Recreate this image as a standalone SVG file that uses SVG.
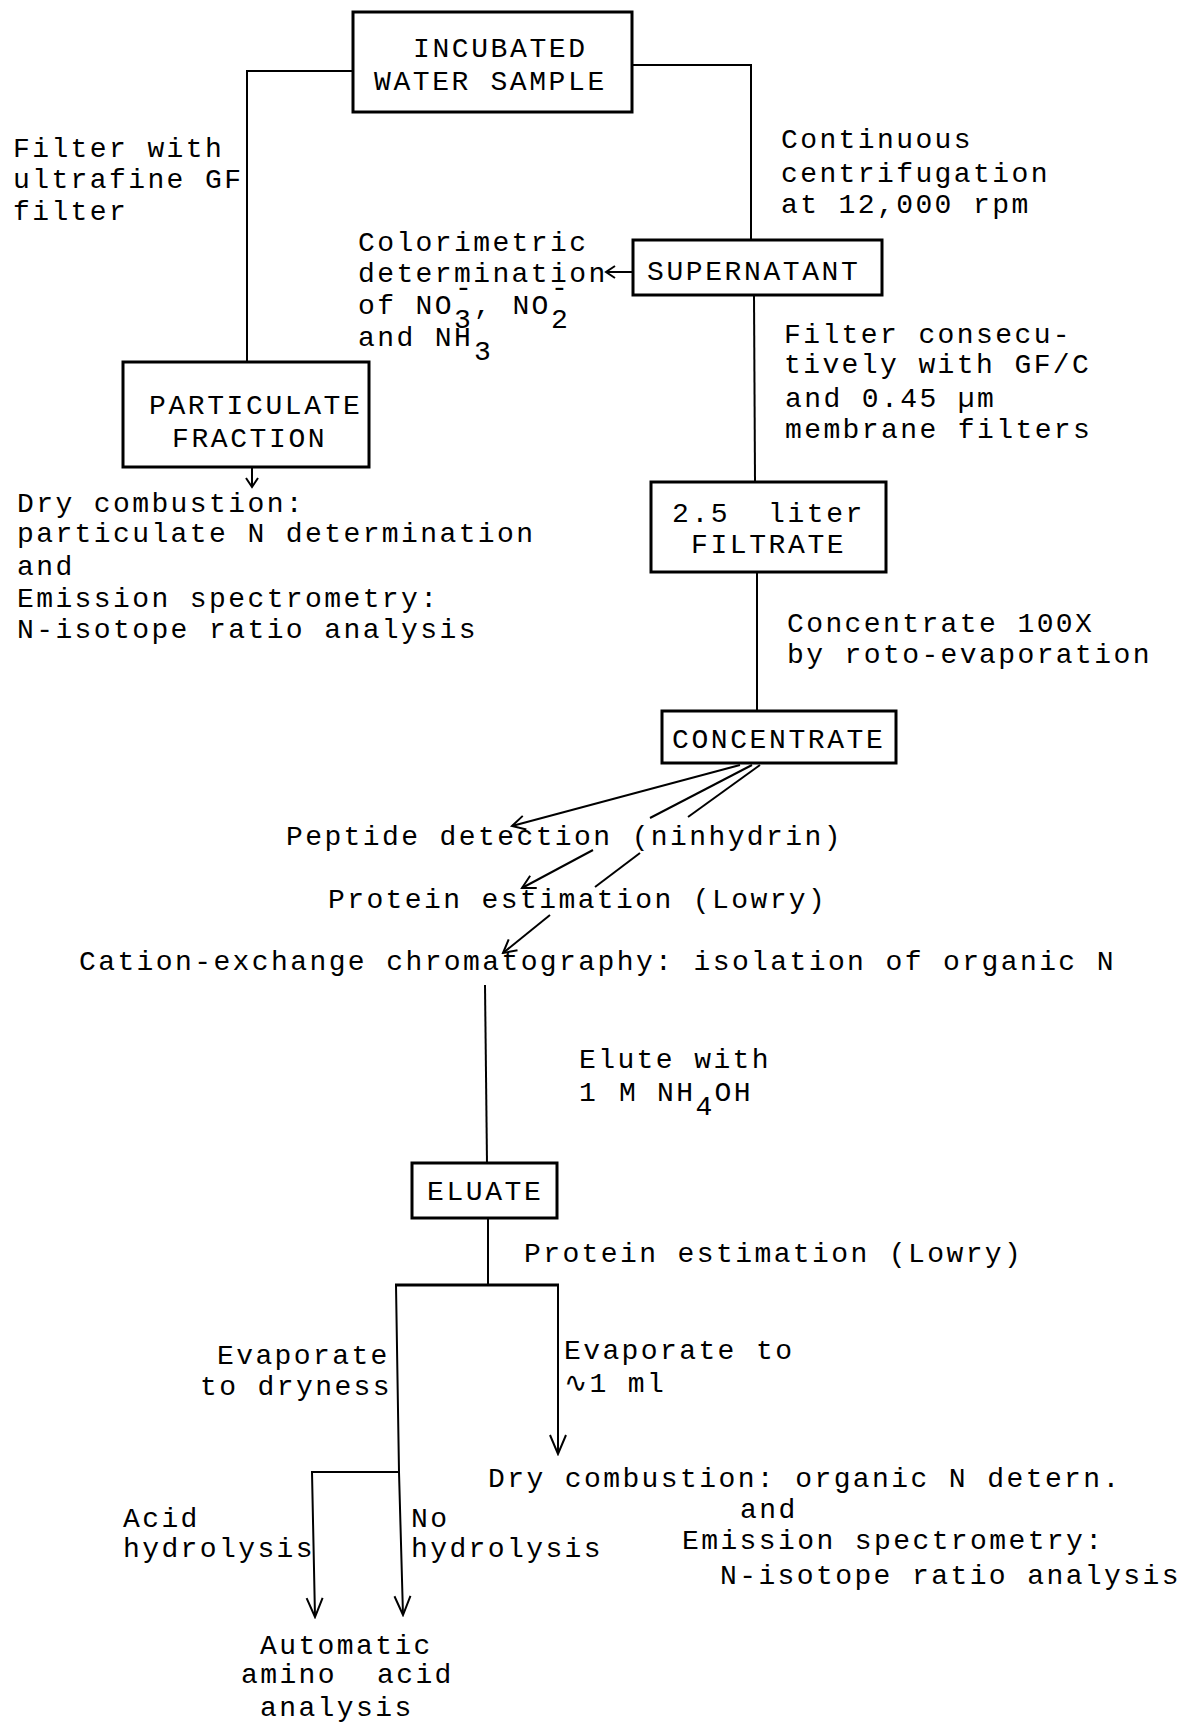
<svg xmlns="http://www.w3.org/2000/svg" width="1182" height="1724" viewBox="0 0 1182 1724">
<style>
.t{font-family:"Liberation Mono","DejaVu Sans Mono",monospace;font-size:28px;letter-spacing:2.4px;fill:#000}
.b{font-family:"Liberation Mono","DejaVu Sans Mono",monospace;font-size:28px;letter-spacing:2.6px;fill:#000}
.box{fill:none;stroke:#000;stroke-width:3}
.ln{fill:none;stroke:#000;stroke-width:2}
</style>
<defs>
<marker id="ah" markerUnits="userSpaceOnUse" viewBox="-16 -10 18 20" markerWidth="18" markerHeight="20" refX="0" refY="0" orient="auto">
<path d="M-13,-7 L0,0 L-13,7" fill="none" stroke="#000" stroke-width="2"/>
</marker>
<marker id="ahs" markerUnits="userSpaceOnUse" viewBox="-12 -8 14 16" markerWidth="14" markerHeight="16" refX="0" refY="0" orient="auto">
<path d="M-9,-6 L0,0 L-9,6" fill="none" stroke="#000" stroke-width="2"/>
</marker>
<marker id="ahl" markerUnits="userSpaceOnUse" viewBox="-22 -11 24 22" markerWidth="24" markerHeight="22" refX="0" refY="0" orient="auto">
<path d="M-19,-8 L0,0 L-19,8" fill="none" stroke="#000" stroke-width="2"/>
</marker>
</defs>
<rect width="1182" height="1724" fill="#fff"/>

<g id="incubated">
<rect class="box" x="353" y="12" width="279" height="100"/>
<text class="b" x="413" y="57">INCUBATED</text>
<text class="b" x="374" y="90">WATER SAMPLE</text>
</g>
<g id="particulate">
<rect class="box" x="123" y="362" width="246" height="105"/>
<text class="b" x="149" y="414">PARTICULATE</text>
<text class="b" x="172" y="447">FRACTION</text>
</g>
<g id="supernatant">
<rect class="box" x="633" y="240" width="249" height="55"/>
<text class="b" x="647" y="280">SUPERNATANT</text>
</g>
<g id="filtrate">
<rect class="box" x="651" y="482" width="235" height="90"/>
<text class="b" x="672" y="522">2.5 <tspan x="768">liter</tspan></text>
<text class="b" x="691" y="553">FILTRATE</text>
</g>
<g id="concentrate">
<rect class="box" x="662" y="711" width="234" height="52"/>
<text class="b" x="672" y="748">CONCENTRATE</text>
</g>
<g id="eluate">
<rect class="box" x="412" y="1163" width="145" height="55"/>
<text class="b" x="427" y="1200">ELUATE</text>
</g>

<g id="connectors">
<polyline class="ln" points="353,71 247,71 247,362"/>
<polyline class="ln" points="632,65 751,65 751,240"/>
<line class="ln" x1="754" y1="295" x2="755" y2="482"/>
<line class="ln" x1="757" y1="572" x2="757" y2="711"/>
<line class="ln" x1="252" y1="467" x2="252" y2="487" marker-end="url(#ahs)"/>
<line class="ln" x1="633" y1="272" x2="606" y2="272" marker-end="url(#ahs)"/>
<line class="ln" x1="740" y1="765" x2="512" y2="826" marker-end="url(#ah)"/>
<line class="ln" x1="752" y1="765" x2="650" y2="818"/>
<line class="ln" x1="593" y1="850" x2="522" y2="888" marker-end="url(#ah)"/>
<line class="ln" x1="760" y1="765" x2="688" y2="817"/>
<line class="ln" x1="640" y1="853" x2="595" y2="887"/>
<line class="ln" x1="550" y1="915" x2="503" y2="953" marker-end="url(#ah)"/>
<line class="ln" x1="485" y1="985" x2="487" y2="1163"/>
<line class="ln" x1="488" y1="1218" x2="488" y2="1285"/>
<line class="box" x1="395" y1="1285" x2="559" y2="1285"/>
<line class="ln" x1="558" y1="1285" x2="558" y2="1454" marker-end="url(#ahl)"/>
<polyline class="ln" points="396,1285 399,1472 403,1615" marker-end="url(#ahl)"/>
<polyline class="ln" points="399,1472 312,1472 315,1617" marker-end="url(#ahl)"/>
</g>

<g id="labels">
<text class="t" x="13" y="157">Filter with</text>
<text class="t" x="13" y="188">ultrafine GF</text>
<text class="t" x="13" y="220">filter</text>

<text class="t" x="781" y="148">Continuous</text>
<text class="t" x="781" y="182">centrifugation</text>
<text class="t" x="781" y="213">at 12,000 rpm</text>

<text class="t" x="358" y="251">Colorimetric</text>
<text class="t" x="358" y="282">determination</text>
<text class="t" x="358" y="314">of NO<tspan dy="14">3</tspan><tspan x="455" dy="-32">-</tspan><tspan x="474" dy="18">, NO</tspan><tspan x="551" dy="14">2</tspan><tspan x="551" dy="-32">-</tspan></text>
<text class="t" x="358" y="346">and NH<tspan x="474" dy="14">3</tspan></text>

<text class="t" x="784" y="343">Filter consecu-</text>
<text class="t" x="784" y="373">tively with GF/C</text>
<text class="t" x="785" y="407">and 0.45 µm</text>
<text class="t" x="785" y="438">membrane filters</text>

<text class="t" x="17" y="512">Dry combustion:</text>
<text class="t" x="17" y="542">particulate N determination</text>
<text class="t" x="17" y="575">and</text>
<text class="t" x="17" y="607">Emission spectrometry:</text>
<text class="t" x="17" y="638">N-isotope ratio analysis</text>

<text class="t" x="787" y="632">Concentrate 100X</text>
<text class="t" x="787" y="663">by roto-evaporation</text>

<text class="t" x="286" y="845">Peptide detection (ninhydrin)</text>
<text class="t" x="328" y="908">Protein estimation (Lowry)</text>
<text class="t" x="79" y="970">Cation-exchange chromatography: isolation of organic N</text>

<text class="t" x="579" y="1068">Elute with</text>
<text class="t" x="579" y="1101">1 <tspan x="619">M</tspan> <tspan x="657">NH</tspan><tspan dy="14">4</tspan><tspan dy="-14">OH</tspan></text>

<text class="t" x="524" y="1262">Protein estimation (Lowry)</text>

<text class="t" x="217" y="1364">Evaporate</text>
<text class="t" x="200" y="1395">to dryness</text>
<text class="t" x="564" y="1359">Evaporate to</text>
<text class="t" x="564" y="1392">∿1 ml</text>

<text class="t" x="488" y="1487">Dry combustion: organic N detern.</text>
<text class="t" x="740" y="1518">and</text>
<text class="t" x="682" y="1549">Emission spectrometry:</text>
<text class="t" x="720" y="1584">N-isotope ratio analysis</text>

<text class="t" x="123" y="1527">Acid</text>
<text class="t" x="123" y="1557">hydrolysis</text>
<text class="t" x="411" y="1527">No</text>
<text class="t" x="411" y="1557">hydrolysis</text>

<text class="t" x="260" y="1654">Automatic</text>
<text class="t" x="241" y="1683">amino <tspan x="377">acid</tspan></text>
<text class="t" x="260" y="1716">analysis</text>
</g>
</svg>
